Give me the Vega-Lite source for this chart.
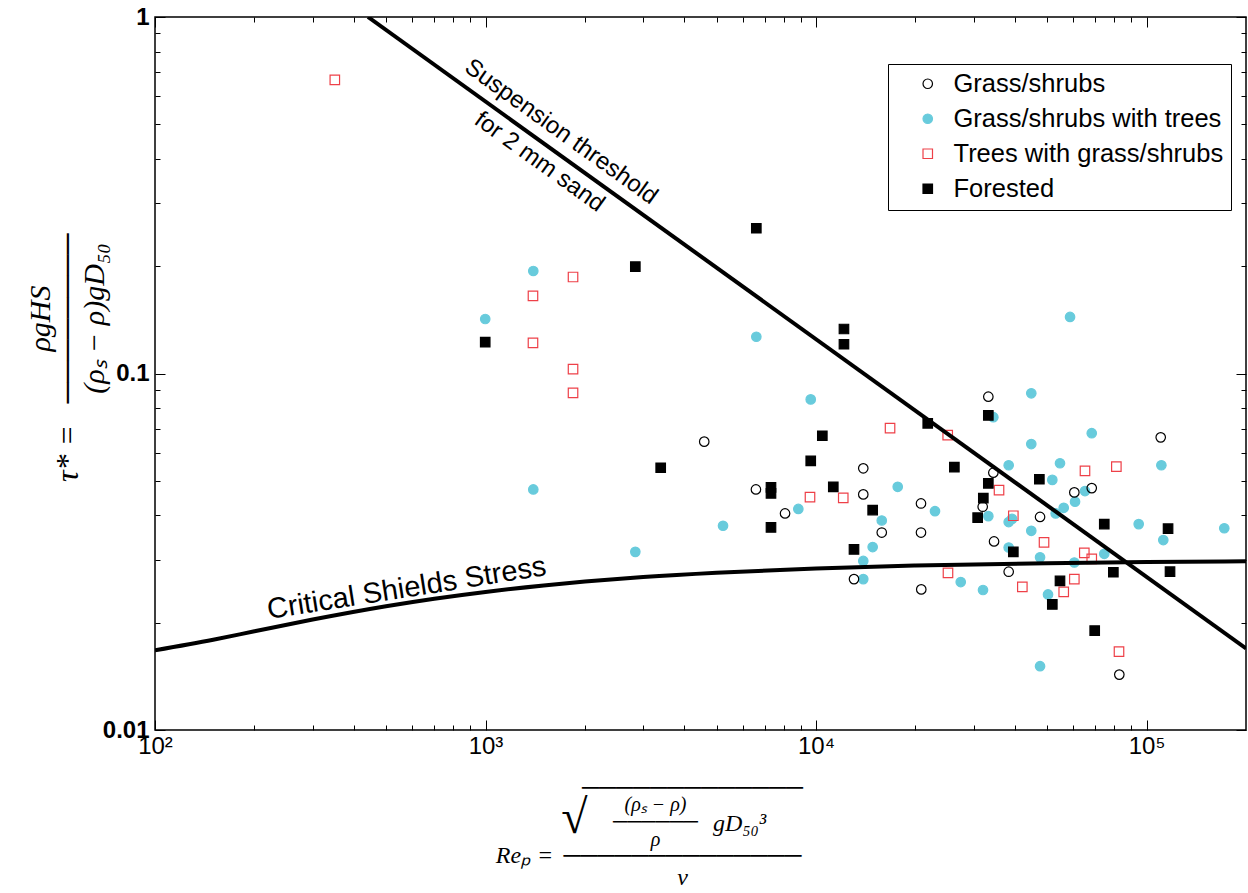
{
  "$schema": "https://vega.github.io/schema/vega-lite/v6.json",
  "width": 1091,
  "height": 713,
  "autosize": "none",
  "padding": {"left": 155, "top": 17, "right": 2, "bottom": 163},
  "background": "white",
  "config": {
    "view": {"stroke": "black", "strokeWidth": 1.5},
    "axis": {"grid": false, "domain": false, "tickColor": "black", "tickWidth": 1, "labelColor": "black", "titleColor": "black", "labelFont": "Liberation Sans",
      "titleFont": "Liberation Serif", "titleFontStyle": "italic", "titleFontWeight": "normal", "titleAlign": "center", "titleBaseline": "middle", "titleAnchor": null},
    "legend": {
      "orient": "none", "legendX": 733, "legendY": 47,
      "strokeColor": "black", "fillColor": "white", "padding": 7,
      "labelFont": "Liberation Sans", "labelFontSize": 25.5, "labelColor": "black", "labelLimit": 400,
      "symbolSize": 90, "symbolStrokeWidth": 1.2, "rowPadding": 8, "labelOffset": 13, "symbolOffset": 20
    }
  },
  "datasets": {
    "points": [
      {"Re": 1395, "tau": 0.1939, "cover": "Grass/shrubs with trees"},
      {"Re": 998, "tau": 0.1422, "cover": "Grass/shrubs with trees"},
      {"Re": 1395, "tau": 0.0473, "cover": "Grass/shrubs with trees"},
      {"Re": 6598, "tau": 0.1268, "cover": "Grass/shrubs with trees"},
      {"Re": 9639, "tau": 0.0846, "cover": "Grass/shrubs with trees"},
      {"Re": 2840, "tau": 0.0316, "cover": "Grass/shrubs with trees"},
      {"Re": 5232, "tau": 0.0374, "cover": "Grass/shrubs with trees"},
      {"Re": 8841, "tau": 0.0417, "cover": "Grass/shrubs with trees"},
      {"Re": 17670, "tau": 0.0481, "cover": "Grass/shrubs with trees"},
      {"Re": 22910, "tau": 0.0411, "cover": "Grass/shrubs with trees"},
      {"Re": 15810, "tau": 0.0387, "cover": "Grass/shrubs with trees"},
      {"Re": 44810, "tau": 0.088, "cover": "Grass/shrubs with trees"},
      {"Re": 34400, "tau": 0.0754, "cover": "Grass/shrubs with trees"},
      {"Re": 44810, "tau": 0.0634, "cover": "Grass/shrubs with trees"},
      {"Re": 38280, "tau": 0.0553, "cover": "Grass/shrubs with trees"},
      {"Re": 33220, "tau": 0.0398, "cover": "Grass/shrubs with trees"},
      {"Re": 38280, "tau": 0.0383, "cover": "Grass/shrubs with trees"},
      {"Re": 39180, "tau": 0.0391, "cover": "Grass/shrubs with trees"},
      {"Re": 44810, "tau": 0.0362, "cover": "Grass/shrubs with trees"},
      {"Re": 38280, "tau": 0.0325, "cover": "Grass/shrubs with trees"},
      {"Re": 47630, "tau": 0.0305, "cover": "Grass/shrubs with trees"},
      {"Re": 60480, "tau": 0.0295, "cover": "Grass/shrubs with trees"},
      {"Re": 74510, "tau": 0.0312, "cover": "Grass/shrubs with trees"},
      {"Re": 27410, "tau": 0.026, "cover": "Grass/shrubs with trees"},
      {"Re": 32010, "tau": 0.0247, "cover": "Grass/shrubs with trees"},
      {"Re": 50350, "tau": 0.024, "cover": "Grass/shrubs with trees"},
      {"Re": 47630, "tau": 0.0151, "cover": "Grass/shrubs with trees"},
      {"Re": 13900, "tau": 0.0298, "cover": "Grass/shrubs with trees"},
      {"Re": 13900, "tau": 0.0265, "cover": "Grass/shrubs with trees"},
      {"Re": 14840, "tau": 0.0326, "cover": "Grass/shrubs with trees"},
      {"Re": 68280, "tau": 0.068, "cover": "Grass/shrubs with trees"},
      {"Re": 54730, "tau": 0.056, "cover": "Grass/shrubs with trees"},
      {"Re": 51880, "tau": 0.0503, "cover": "Grass/shrubs with trees"},
      {"Re": 65140, "tau": 0.0468, "cover": "Grass/shrubs with trees"},
      {"Re": 60780, "tau": 0.0437, "cover": "Grass/shrubs with trees"},
      {"Re": 56170, "tau": 0.042, "cover": "Grass/shrubs with trees"},
      {"Re": 53110, "tau": 0.0405, "cover": "Grass/shrubs with trees"},
      {"Re": 110900, "tau": 0.0553, "cover": "Grass/shrubs with trees"},
      {"Re": 94700, "tau": 0.0378, "cover": "Grass/shrubs with trees"},
      {"Re": 171900, "tau": 0.0368, "cover": "Grass/shrubs with trees"},
      {"Re": 112400, "tau": 0.0341, "cover": "Grass/shrubs with trees"},
      {"Re": 58700, "tau": 0.1441, "cover": "Grass/shrubs with trees"},
      {"Re": 350, "tau": 0.666, "cover": "Trees with grass/shrubs"},
      {"Re": 1392, "tau": 0.165, "cover": "Trees with grass/shrubs"},
      {"Re": 1840, "tau": 0.1865, "cover": "Trees with grass/shrubs"},
      {"Re": 1392, "tau": 0.1218, "cover": "Trees with grass/shrubs"},
      {"Re": 1840, "tau": 0.1029, "cover": "Trees with grass/shrubs"},
      {"Re": 1840, "tau": 0.0882, "cover": "Trees with grass/shrubs"},
      {"Re": 16750, "tau": 0.0703, "cover": "Trees with grass/shrubs"},
      {"Re": 25030, "tau": 0.0672, "cover": "Trees with grass/shrubs"},
      {"Re": 12090, "tau": 0.0448, "cover": "Trees with grass/shrubs"},
      {"Re": 35790, "tau": 0.0471, "cover": "Trees with grass/shrubs"},
      {"Re": 39540, "tau": 0.0399, "cover": "Trees with grass/shrubs"},
      {"Re": 9590, "tau": 0.045, "cover": "Trees with grass/shrubs"},
      {"Re": 65140, "tau": 0.0533, "cover": "Trees with grass/shrubs"},
      {"Re": 81050, "tau": 0.0548, "cover": "Trees with grass/shrubs"},
      {"Re": 48970, "tau": 0.0336, "cover": "Trees with grass/shrubs"},
      {"Re": 64830, "tau": 0.0314, "cover": "Trees with grass/shrubs"},
      {"Re": 68280, "tau": 0.0302, "cover": "Trees with grass/shrubs"},
      {"Re": 25080, "tau": 0.0276, "cover": "Trees with grass/shrubs"},
      {"Re": 42100, "tau": 0.0252, "cover": "Trees with grass/shrubs"},
      {"Re": 56170, "tau": 0.0244, "cover": "Trees with grass/shrubs"},
      {"Re": 60480, "tau": 0.0265, "cover": "Trees with grass/shrubs"},
      {"Re": 82560, "tau": 0.0166, "cover": "Trees with grass/shrubs"},
      {"Re": 4590, "tau": 0.0644, "cover": "Grass/shrubs"},
      {"Re": 6580, "tau": 0.0473, "cover": "Grass/shrubs"},
      {"Re": 8060, "tau": 0.0405, "cover": "Grass/shrubs"},
      {"Re": 13900, "tau": 0.0542, "cover": "Grass/shrubs"},
      {"Re": 13900, "tau": 0.0458, "cover": "Grass/shrubs"},
      {"Re": 15810, "tau": 0.0358, "cover": "Grass/shrubs"},
      {"Re": 20780, "tau": 0.0432, "cover": "Grass/shrubs"},
      {"Re": 20780, "tau": 0.0358, "cover": "Grass/shrubs"},
      {"Re": 33220, "tau": 0.0861, "cover": "Grass/shrubs"},
      {"Re": 34400, "tau": 0.0527, "cover": "Grass/shrubs"},
      {"Re": 31940, "tau": 0.0423, "cover": "Grass/shrubs"},
      {"Re": 34570, "tau": 0.0338, "cover": "Grass/shrubs"},
      {"Re": 47630, "tau": 0.0396, "cover": "Grass/shrubs"},
      {"Re": 38280, "tau": 0.0278, "cover": "Grass/shrubs"},
      {"Re": 13030, "tau": 0.0265, "cover": "Grass/shrubs"},
      {"Re": 20820, "tau": 0.0248, "cover": "Grass/shrubs"},
      {"Re": 60480, "tau": 0.0464, "cover": "Grass/shrubs"},
      {"Re": 68280, "tau": 0.0477, "cover": "Grass/shrubs"},
      {"Re": 110400, "tau": 0.0662, "cover": "Grass/shrubs"},
      {"Re": 82740, "tau": 0.0143, "cover": "Grass/shrubs"},
      {"Re": 998, "tau": 0.1224, "cover": "Forested"},
      {"Re": 2840, "tau": 0.1994, "cover": "Forested"},
      {"Re": 6598, "tau": 0.2555, "cover": "Forested"},
      {"Re": 12150, "tau": 0.1333, "cover": "Forested"},
      {"Re": 12150, "tau": 0.1208, "cover": "Forested"},
      {"Re": 3389, "tau": 0.0544, "cover": "Forested"},
      {"Re": 10450, "tau": 0.0669, "cover": "Forested"},
      {"Re": 9639, "tau": 0.0569, "cover": "Forested"},
      {"Re": 7308, "tau": 0.0479, "cover": "Forested"},
      {"Re": 7308, "tau": 0.0461, "cover": "Forested"},
      {"Re": 7308, "tau": 0.037, "cover": "Forested"},
      {"Re": 11280, "tau": 0.0481, "cover": "Forested"},
      {"Re": 13030, "tau": 0.0321, "cover": "Forested"},
      {"Re": 21780, "tau": 0.0725, "cover": "Forested"},
      {"Re": 26220, "tau": 0.0546, "cover": "Forested"},
      {"Re": 33220, "tau": 0.0763, "cover": "Forested"},
      {"Re": 33220, "tau": 0.0492, "cover": "Forested"},
      {"Re": 32080, "tau": 0.0447, "cover": "Forested"},
      {"Re": 30840, "tau": 0.0394, "cover": "Forested"},
      {"Re": 14840, "tau": 0.0414, "cover": "Forested"},
      {"Re": 47400, "tau": 0.0505, "cover": "Forested"},
      {"Re": 39540, "tau": 0.0316, "cover": "Forested"},
      {"Re": 74510, "tau": 0.0378, "cover": "Forested"},
      {"Re": 116200, "tau": 0.0367, "cover": "Forested"},
      {"Re": 79370, "tau": 0.0277, "cover": "Forested"},
      {"Re": 117800, "tau": 0.0278, "cover": "Forested"},
      {"Re": 54730, "tau": 0.0262, "cover": "Forested"},
      {"Re": 51880, "tau": 0.0225, "cover": "Forested"},
      {"Re": 69700, "tau": 0.019, "cover": "Forested"}
    ],
    "shields": [
      {"Re": 100, "tau": 0.01674}, {"Re": 150, "tau": 0.01792}, {"Re": 200, "tau": 0.01892},
      {"Re": 300, "tau": 0.02041}, {"Re": 500, "tau": 0.02224}, {"Re": 700, "tau": 0.02335},
      {"Re": 1000, "tau": 0.0244}, {"Re": 1500, "tau": 0.02544}, {"Re": 2000, "tau": 0.02608},
      {"Re": 3000, "tau": 0.02685}, {"Re": 5000, "tau": 0.02762}, {"Re": 10000, "tau": 0.0284},
      {"Re": 20000, "tau": 0.02892}, {"Re": 50000, "tau": 0.02937}, {"Re": 100000, "tau": 0.02958},
      {"Re": 200000, "tau": 0.02972}
    ],
    "suspension": [
      {"Re": 441, "tau": 1.0}, {"Re": 200000, "tau": 0.01694}
    ],
    "labelSusp": [{"Re": 1692, "tau": 0.4758, "text": "Suspension threshold\nfor 2 mm sand"}],
    "labelShields": [{"Re": 583, "tau": 0.0236, "text": "Critical Shields Stress"}]
  },
  "resolve": {"axis": {"x": "independent", "y": "independent"}},
  "layer": [
    {
      "data": {"name": "points"},
      "mark": {"type": "point", "filled": false, "opacity": 1, "size": 90, "strokeWidth": 1.2},
      "encoding": {
        "x": {"field": "Re", "type": "quantitative", "scale": {"type": "log", "domain": [100, 200000], "nice": false},
          "axis": {"orient": "top", "labels": false,
            "values": [100,200,300,400,500,600,700,800,900,1000,2000,3000,4000,5000,6000,7000,8000,9000,10000,20000,30000,40000,50000,60000,70000,80000,90000,100000],
            "tickSize": {"condition": {"test": "indexof([100,1000,10000,100000], datum.value) >= 0", "value": -10}, "value": -5},
            "title": ["──────────────", "ν"], "titleFontSize": 24, "titleLineHeight": 22, "titleX": 527, "titleY": 838}},
        "y": {"field": "tau", "type": "quantitative", "scale": {"type": "log", "domain": [0.01, 1], "nice": false},
          "axis": {"orient": "right", "labels": false, "title": null,
            "values": [0.01,0.02,0.03,0.04,0.05,0.06,0.07,0.08,0.09,0.1,0.2,0.3,0.4,0.5,0.6,0.7,0.8,0.9,1],
            "tickSize": {"condition": {"test": "indexof([0.01,0.1,1], datum.value) >= 0", "value": -10}, "value": -5}}},
        "shape": {"field": "cover", "type": "nominal", "title": null,
          "scale": {"domain": ["Grass/shrubs", "Grass/shrubs with trees", "Trees with grass/shrubs", "Forested"], "range": ["circle", "circle", "square", "square"]}},
        "fill": {"field": "cover", "type": "nominal", "title": null,
          "scale": {"domain": ["Grass/shrubs", "Grass/shrubs with trees", "Trees with grass/shrubs", "Forested"], "range": ["transparent", "#68CBDC", "transparent", "black"]}},
        "stroke": {"field": "cover", "type": "nominal", "title": null,
          "scale": {"domain": ["Grass/shrubs", "Grass/shrubs with trees", "Trees with grass/shrubs", "Forested"], "range": ["black", "#68CBDC", "#EE4048", "black"]}}
      }
    },
    {
      "data": {"name": "shields"},
      "mark": {"type": "line", "color": "black", "strokeWidth": 4, "interpolate": "monotone", "clip": true},
      "encoding": {
        "x": {"field": "Re", "type": "quantitative", "scale": {"type": "log", "domain": [100, 200000], "nice": false},
          "axis": {"orient": "bottom", "ticks": false, "tickSize": 0, "values": [100, 1000, 10000, 100000],
            "labelExpr": "datum.value == 100 ? '10²' : datum.value == 1000 ? '10³' : datum.value == 10000 ? '10⁴' : '10⁵'",
            "labelFont": "Liberation Sans Narrow, Liberation Sans", "labelFontSize": 24, "labelPadding": 4, "labelFlush": false,
            "title": ["(ρₛ − ρ)", "──────", "ρ"], "titleFontSize": 20, "titleLineHeight": 17.5, "titleX": 500, "titleY": 74}},
        "y": {"field": "tau", "type": "quantitative", "scale": {"type": "log", "domain": [0.01, 1], "nice": false},
          "axis": {"orient": "left", "ticks": false, "tickSize": 0, "values": [0.01, 0.1, 1],
            "labelExpr": "datum.value == 1 ? '1' : datum.value == 0.1 ? '0.1' : '0.01'",
            "labelFontSize": 24, "labelFontWeight": "bold", "labelPadding": 6, "labelFlush": false,
            "title": ["ρgHS", "────────", "(ρₛ − ρ)gD₅₀"], "titleFontSize": 30, "titleLineHeight": 27,
            "titleX": -115, "titleY": 301, "titleAngle": -90}}
      }
    },
    {
      "data": {"name": "suspension"},
      "mark": {"type": "line", "color": "black", "strokeWidth": 4, "clip": true},
      "encoding": {
        "x": {"field": "Re", "type": "quantitative", "scale": {"type": "log", "domain": [100, 200000], "nice": false},
          "axis": {"orient": "bottom", "labels": false,
            "values": [100,200,300,400,500,600,700,800,900,1000,2000,3000,4000,5000,6000,7000,8000,9000,10000,20000,30000,40000,50000,60000,70000,80000,90000,100000],
            "tickSize": {"condition": {"test": "indexof([100,1000,10000,100000], datum.value) >= 0", "value": -10}, "value": -5},
            "title": "Reₚ =", "titleFontSize": 24, "titleX": 369, "titleY": 125}},
        "y": {"field": "tau", "type": "quantitative", "scale": {"type": "log", "domain": [0.01, 1], "nice": false},
          "axis": {"orient": "left", "labels": false,
            "values": [0.01,0.02,0.03,0.04,0.05,0.06,0.07,0.08,0.09,0.1,0.2,0.3,0.4,0.5,0.6,0.7,0.8,0.9,1],
            "tickSize": {"condition": {"test": "indexof([0.01,0.1,1], datum.value) >= 0", "value": -10}, "value": -5},
            "title": "τ* =", "titleFontSize": 32, "titleX": -88, "titleY": 436, "titleAngle": -90}}
      }
    },
    {
      "data": {"name": "labelSusp"},
      "mark": {"type": "text", "angle": 35.7, "font": "Liberation Sans", "fontSize": 24, "lineBreak": "\n", "lineHeight": 37, "align": "center", "baseline": "middle", "color": "black"},
      "encoding": {
        "x": {"field": "Re", "type": "quantitative", "scale": {"type": "log", "domain": [100, 200000], "nice": false},
          "axis": {"orient": "bottom", "ticks": false, "labels": false, "domain": false,
            "title": "√", "titleFont": "Liberation Serif", "titleFontStyle": "normal", "titleFontSize": 48, "titleX": 419, "titleY": 88}},
        "y": {"field": "tau", "type": "quantitative", "scale": {"type": "log", "domain": [0.01, 1], "nice": false},
          "axis": {"orient": "left", "ticks": false, "labels": false, "domain": false,
            "title": "─────────────", "titleFontSize": 24, "titleAngle": 0, "titleX": 537, "titleY": 770}},
        "text": {"field": "text"}
      }
    },
    {
      "data": {"name": "labelShields"},
      "mark": {"type": "text", "angle": -9, "font": "Liberation Sans", "fontSize": 29, "align": "center", "baseline": "alphabetic", "color": "black"},
      "encoding": {
        "x": {"field": "Re", "type": "quantitative", "scale": {"type": "log", "domain": [100, 200000], "nice": false},
          "axis": {"orient": "bottom", "ticks": false, "labels": false, "domain": false,
            "title": "gD₅₀³", "titleFontSize": 24, "titleX": 584, "titleY": 93}},
        "y": {"field": "tau", "type": "quantitative", "scale": {"type": "log", "domain": [0.01, 1], "nice": false}, "axis": null},
        "text": {"field": "text"}
      }
    }
  ]
}
